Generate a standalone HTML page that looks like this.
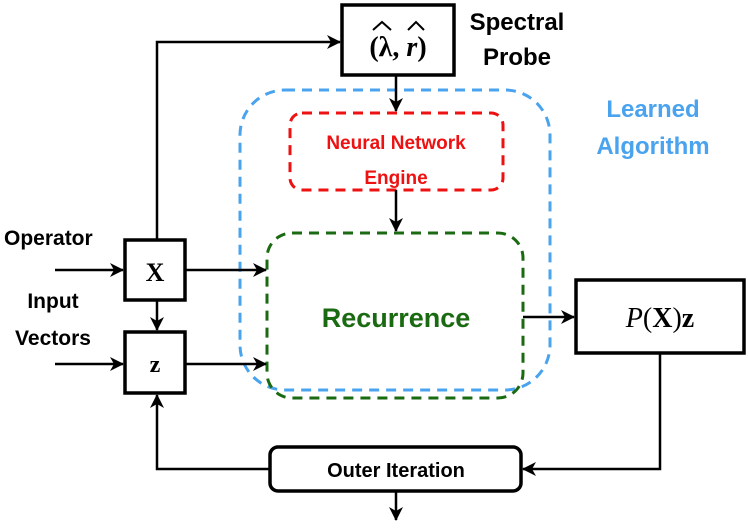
<!DOCTYPE html>
<html><head><style>
body{margin:0;background:#fff;}
svg text{font-family:"Liberation Sans",sans-serif;font-weight:bold;}
</style></head><body>
<svg width="748" height="524" viewBox="0 0 748 524" xmlns="http://www.w3.org/2000/svg">
<defs>
<marker id="b" markerWidth="14" markerHeight="14" refX="13" refY="7" orient="auto" markerUnits="userSpaceOnUse"><path d="M0,0 L14,7 L0,14 L4,7 Z" fill="#000"/></marker></defs>
<g fill="none" stroke-width="3" stroke-dasharray="10,7">
<rect x="240" y="90" width="310" height="300" rx="45" stroke="#4aa3ee"/>
<rect x="290" y="113" width="213" height="77" rx="12" stroke="#ee1111"/>
<rect x="267" y="233" width="256" height="165" rx="25" stroke="#1a6a12"/>
</g>
<g fill="#fff" stroke="#000" stroke-width="3.5">
<rect x="342" y="5" width="112" height="70"/>
<rect x="125" y="240" width="60" height="60"/>
<rect x="125" y="332" width="60" height="61"/>
<rect x="576" y="280" width="168" height="73"/>
<rect x="270" y="447" width="251" height="44" rx="8"/>
</g>
<g stroke="#000" stroke-width="2.5" fill="none">
<path d="M157 240 V42 H340" marker-end="url(#b)"/>
<path d="M396 75 V111" marker-end="url(#b)"/>
<path d="M396 190 V231" marker-end="url(#b)"/>
<path d="M55 270 H123" marker-end="url(#b)"/>
<path d="M55 364 H123" marker-end="url(#b)"/>
<path d="M185 270 H266" marker-end="url(#b)"/>
<path d="M185 364 H266" marker-end="url(#b)"/>
<path d="M157 300 V330" marker-end="url(#b)"/>
<path d="M523 317 H574" marker-end="url(#b)"/>
<path d="M660 353 V469 H523" marker-end="url(#b)"/>
<path d="M270 469 H157 V395" marker-end="url(#b)"/>
<path d="M396 491 V520" marker-end="url(#b)"/>
</g>
<g stroke="#000" stroke-width="2" fill="none">
<path d="M373 30 L382 22 L391 30"/>
<path d="M408 30 L416 22 L424 30"/>
</g>
<text x="398" y="56" text-anchor="middle" font-size="28" style="font-family:'Liberation Serif',serif">(λ, <tspan font-style="italic">r</tspan>)</text>
<text x="155" y="281" text-anchor="middle" font-size="26" style="font-family:'Liberation Serif',serif">X</text>
<text x="155" y="372" text-anchor="middle" font-size="24" style="font-family:'Liberation Serif',serif">z</text>
<text x="660" y="327" text-anchor="middle" font-size="28" style="font-family:'Liberation Serif',serif;font-weight:normal"><tspan font-style="italic">P</tspan>(<tspan font-weight="bold">X</tspan>)<tspan font-weight="bold">z</tspan></text>
<text x="517" y="30" text-anchor="middle" font-size="24">Spectral</text>
<text x="517" y="65" text-anchor="middle" font-size="24">Probe</text>
<text x="653" y="117" text-anchor="middle" font-size="24" fill="#4aa3ee">Learned</text>
<text x="653" y="154" text-anchor="middle" font-size="24" fill="#4aa3ee">Algorithm</text>
<text x="396" y="149" text-anchor="middle" font-size="19" fill="#ee1111">Neural Network</text>
<text x="396" y="184" text-anchor="middle" font-size="19" fill="#ee1111">Engine</text>
<text x="396" y="327" text-anchor="middle" font-size="27" fill="#1a6a12">Recurrence</text>
<text x="396" y="477" text-anchor="middle" font-size="20">Outer Iteration</text>
<text x="4" y="245" font-size="21">Operator</text>
<text x="53" y="308" text-anchor="middle" font-size="21">Input</text>
<text x="53" y="345" text-anchor="middle" font-size="21">Vectors</text>
</svg>
</body></html>
